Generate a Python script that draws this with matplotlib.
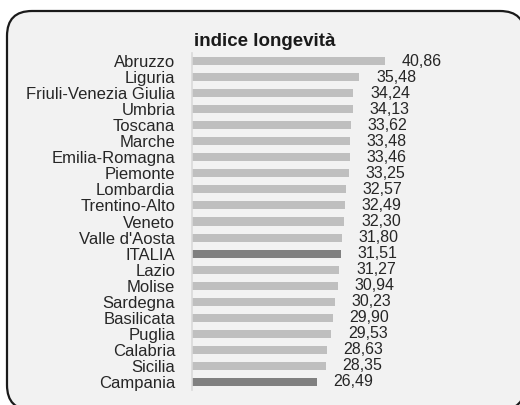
import matplotlib.pyplot as plt
from matplotlib.patches import FancyBboxPatch

plt.rcParams['font.family'] = ['Liberation Sans', 'DejaVu Sans']

# Data
regions = ["Abruzzo", "Liguria", "Friuli-Venezia Giulia", "Umbria", "Toscana",
           "Marche", "Emilia-Romagna", "Piemonte", "Lombardia", "Trentino-Alto",
           "Veneto", "Valle d'Aosta", "ITALIA", "Lazio", "Molise", "Sardegna",
           "Basilicata", "Puglia", "Calabria", "Sicilia", "Campania"]
values = [40.86, 35.48, 34.24, 34.13, 33.62, 33.48, 33.46, 33.25, 32.57, 32.49,
          32.30, 31.80, 31.51, 31.27, 30.94, 30.23, 29.90, 29.53, 28.63, 28.35, 26.49]
highlight = ["ITALIA", "Campania"]

W, H = 520, 405
fig = plt.figure(figsize=(W / 100, H / 100), dpi=100)
fig.patch.set_facecolor('white')

# background axes in pixel units for the rounded frame (cut off right/bottom)
bg = fig.add_axes([0, 0, 1, 1], zorder=-1)
bg.set_xlim(0, W)
bg.set_ylim(H, 0)
bg.axis('off')
bg.add_patch(FancyBboxPatch((7, 11), 518, 399,
                            boxstyle="round,pad=0,rounding_size=25",
                            facecolor='#f2f2f2', edgecolor='#1a1a1a',
                            linewidth=1.6, clip_on=False))

ax = fig.add_axes([192 / W, 15 / H, 283 / W, 337 / H])
ax.set_facecolor('none')

colors = ['#808080' if r in highlight else '#bfbfbf' for r in regions]
y = list(range(len(regions)))
ax.barh(y, values, height=0.5, color=colors)

for yi, v in zip(y, values):
    ax.annotate(f"{v:.2f}".replace('.', ','), (v, yi), xytext=(12, 0),
                textcoords='offset points', va='center', ha='left',
                fontsize=11.5, color='#262626')

ax.set_xlim(0, 60)
ax.set_ylim(len(regions) - 0.5, -0.5)
ax.set_yticks(y)
ax.set_yticklabels(regions, fontsize=12, color='#262626')
ax.tick_params(axis='y', length=0, pad=12)
ax.set_xticks([])
for s in ['top', 'right', 'bottom']:
    ax.spines[s].set_visible(False)
ax.spines['left'].set_color('#d9d9d9')
ax.spines['left'].set_linewidth(1.2)

fig.text(265 / W, 1 - 42 / H, "indice longevità", ha='center', va='center',
         fontsize=13.5, fontweight='bold', color='#1a1a1a')

fig.savefig('out.png', dpi=100)
